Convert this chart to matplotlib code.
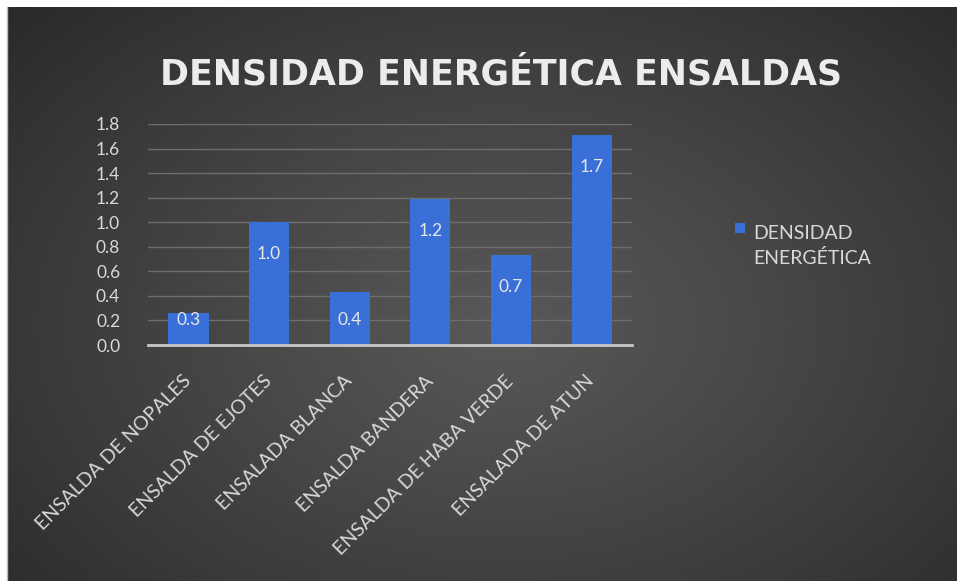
import numpy as np
import matplotlib
matplotlib.use("Agg")
import matplotlib.pyplot as plt
from matplotlib.patches import Rectangle

categories = ["ENSALDA DE NOPALES", "ENSALDA DE EJOTES", "ENSALADA BLANCA",
              "ENSALDA BANDERA", "ENSALDA DE HABA VERDE", "ENSALADA DE ATUN"]
values = [0.26, 1.0, 0.43, 1.19, 0.73, 1.71]
yticks = [0.0, 0.2, 0.4, 0.6, 0.8, 1.0, 1.2, 1.4, 1.6, 1.8]
title = "DENSIDAD ENERGÉTICA ENSALDAS"
series_name = "DENSIDAD\nENERGÉTICA"

W, H = 957, 581
fig = plt.figure(figsize=(W / 100, H / 100), dpi=100)
fig.patch.set_facecolor("white")

# background panel with radial gradient
bg = fig.add_axes([8 / W, 0, (W - 8) / W, (H - 7) / H])
bg.set_axis_off()
ny, nx = 300, 500
yy, xx = np.mgrid[0:ny, 0:nx]
cx, cy = 0.52 * nx, 0.55 * ny
r = np.sqrt(((xx - cx) / (0.75 * nx)) ** 2 + ((yy - cy) / (0.85 * ny)) ** 2)
r = np.clip(r, 0, 1)
c0, c1 = 0x58 / 255, 0x27 / 255
img = c0 + (c1 - c0) * r ** 1.1
bg.imshow(np.dstack([img, img, img]), aspect="auto", extent=[0, 1, 0, 1], origin="upper")
bg.set_xlim(0, 1)
bg.set_ylim(0, 1)
fig.add_artist(plt.Line2D([7.5 / W, 7.5 / W], [0, (H - 7) / H], color="#bbbbbb", lw=1))

font = "Lato"
txtcol = "#d9d9d9"

ax = fig.add_axes([148 / W, 1 - 345 / H, 484 / W, (345 - 124) / H])
ax.set_facecolor("none")
x = np.arange(len(categories))
bars = ax.bar(x, values, width=0.5, color="#3b6fd8", zorder=3)
ax.set_xlim(-0.5, len(categories) - 0.5)
ax.set_ylim(0, 1.8)
ax.set_yticks(yticks)
ax.set_yticklabels([f"{t:.1f}" for t in yticks], fontsize=12.5, color=txtcol, family=font)
ax.grid(axis="y", color="#6e6e6e", lw=1, zorder=0)
for s in ["top", "right", "left"]:
    ax.spines[s].set_visible(False)
ax.spines["bottom"].set_color("#c8c8c8")
ax.spines["bottom"].set_linewidth(2)
ax.spines["bottom"].set_zorder(4)
ax.tick_params(axis="y", length=0, pad=20)
ax.tick_params(axis="x", length=0, pad=24)
ax.set_xticks(x)
ax.set_xticklabels(categories, rotation=45, ha="right", va="center",
                   rotation_mode="anchor", fontsize=14, color=txtcol, family=font)

for xi, v in zip(x, values):
    ly = max(v - 0.26, 0.2)
    ax.text(xi, ly, f"{v:.1f}", ha="center", va="center", fontsize=12.5,
            color="#e6e6e6", family=font, zorder=5)

fig.text(501 / W, 1 - 74 / H, title, ha="center", va="center", fontsize=25,
         fontweight="bold", color="#ececec", family="DejaVu Sans")

# legend
fig.add_artist(Rectangle((735 / W, 1 - 233 / H), 10 / W, 10 / H, transform=fig.transFigure,
                         facecolor="#3b6fd8", edgecolor="none"))
fig.text(753 / W, 1 - 225 / H, series_name, ha="left", va="top", fontsize=14,
         color=txtcol, family=font, linespacing=1.5)

fig.savefig("out.png", dpi=100, facecolor=fig.get_facecolor())
